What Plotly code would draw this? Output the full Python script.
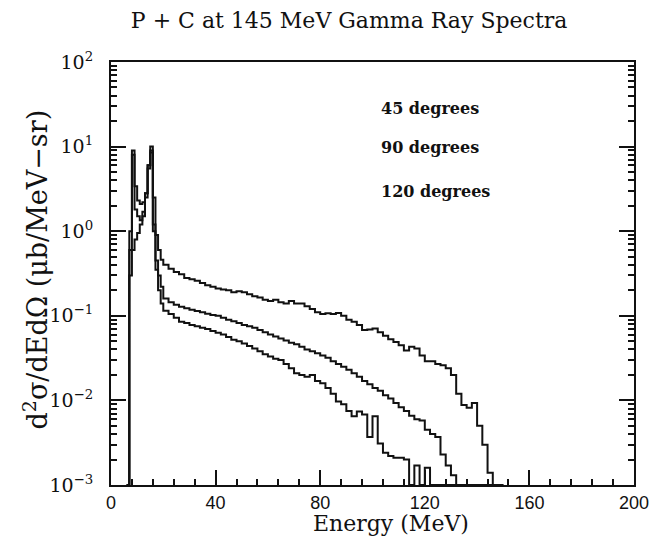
import plotly.graph_objects as go

# Bin left edges (MeV): 1 MeV bins through the peaks, 2 MeV bins in the continuum
e_lo = list(range(6, 20)) + list(range(20, 150, 2))
e_last = 150

labels = ["45 degrees", "90 degrees", "120 degrees"]

# d2sigma/dEdOmega (ub/MeV-sr)
y45 = [0.001, 1.0, 9.0, 3.4, 2.3, 2.1, 2.2, 2.8, 6.0, 10.0, 2.5, 0.9, 0.6, 0.46,
       0.40, 0.36, 0.33, 0.31, 0.28, 0.27, 0.26, 0.245, 0.23, 0.22,
       0.21, 0.205, 0.20, 0.19, 0.195, 0.19, 0.18, 0.17, 0.165, 0.155,
       0.15, 0.155, 0.145, 0.14, 0.15, 0.14, 0.14, 0.13, 0.12, 0.11,
       0.105, 0.107, 0.105, 0.108, 0.10, 0.09, 0.085, 0.078, 0.068, 0.069,
       0.071, 0.064, 0.058, 0.053, 0.049, 0.045, 0.039, 0.043, 0.041, 0.034,
       0.029, 0.029, 0.027, 0.026, 0.024, 0.020, 0.012, 0.0088, 0.0082, 0.0093,
       0.005, 0.003, 0.0014, 0.001, 0.001]

y90 = [0.001, 0.6, 8.0, 1.8, 1.5, 1.35, 1.5, 2.5, 6.0, 9.0, 1.2, 0.45, 0.3, 0.22,
       0.16, 0.145, 0.135, 0.128, 0.123, 0.118, 0.114, 0.11, 0.106, 0.102,
       0.10, 0.095, 0.09, 0.086, 0.082, 0.078, 0.075, 0.072, 0.068, 0.064,
       0.06, 0.057, 0.054, 0.051, 0.048, 0.046, 0.043, 0.040, 0.038, 0.036,
       0.034, 0.032, 0.029, 0.027, 0.025, 0.023, 0.021, 0.019, 0.017, 0.0155,
       0.014, 0.013, 0.0115, 0.0105, 0.0093, 0.0083, 0.0075, 0.0066, 0.006, 0.0058,
       0.0045, 0.004, 0.0037, 0.0023, 0.0017, 0.0013, 0.001, 0.001, 0.001, 0.001,
       0.001, 0.001, 0.001, 0.001, 0.001]

y120 = [0.001, 0.3, 0.6, 0.8, 0.95, 1.2, 1.7, 2.8, 5.5, 8.5, 1.0, 0.35, 0.2, 0.14,
        0.115, 0.105, 0.095, 0.085, 0.082, 0.078, 0.075, 0.072, 0.07, 0.066,
        0.063, 0.06, 0.056, 0.052, 0.05, 0.047, 0.044, 0.041, 0.038, 0.035,
        0.033, 0.031, 0.030, 0.027, 0.024, 0.021, 0.020, 0.019, 0.020, 0.017,
        0.016, 0.014, 0.012, 0.0097, 0.009, 0.0075, 0.0065, 0.0074, 0.0068, 0.0037,
        0.0065, 0.0031, 0.0024, 0.0022, 0.0021, 0.0021, 0.002, 0.001, 0.0017, 0.001,
        0.0016, 0.001, 0.001, 0.001, 0.001, 0.001, 0.001, 0.001, 0.001, 0.001,
        0.001, 0.001, 0.001, 0.001, 0.001]

x_ticks = [0, 40, 80, 120, 160, 200]
y_tickvals = [1e-3, 1e-2, 1e-1, 1, 10, 100]
y_ticktext = ["10<sup>−3</sup>", "10<sup>−2</sup>", "10<sup>−1</sup>",
              "10<sup>0</sup>", "10<sup>1</sup>", "10<sup>2</sup>"]

ink = "#111111"
serif = "DejaVu Serif"

fig = go.Figure()

for series in (y45, y90, y120):
    assert len(series) == len(e_lo)
    fig.add_trace(go.Scatter(
        x=e_lo + [e_last],
        y=series + [series[-1]],
        mode="lines",
        line=dict(color=ink, width=2, shape="hv"),
        showlegend=False,
    ))

# Angle labels in the upper right
label_y = [0.891, 0.797, 0.693]
for txt, yy in zip(labels, label_y):
    fig.add_annotation(
        x=0.512, y=yy, xref="paper", yref="paper",
        text=f"<b>{txt}</b>", showarrow=False, xanchor="left", yanchor="middle",
        font=dict(family=serif, size=16, color=ink),
    )

# axis titles placed by hand (the original sits a bit right of centre on x)
fig.add_annotation(
    x=-0.145, y=0.51, xref="paper", yref="paper", textangle=-90,
    text="d<sup>2</sup>σ/dEdΩ (μb/MeV−sr)", showarrow=False,
    xanchor="center", yanchor="middle",
    font=dict(family=serif, size=27, color=ink),
)
fig.add_annotation(
    x=0.535, y=-0.09, xref="paper", yref="paper",
    text="Energy (MeV)", showarrow=False,
    xanchor="center", yanchor="middle",
    font=dict(family=serif, size=22, color=ink),
)

# the page adds an 8 px body margin, so the figure is 8 px smaller than the window
fig.update_layout(
    width=651, height=534,
    margin=dict(l=103, r=25, t=54, b=57, autoexpand=False),
    paper_bgcolor="white", plot_bgcolor="white",
    title=dict(text="P + C at 145 MeV Gamma Ray Spectra", x=0.524, xanchor="center",
               y=0.977, yanchor="middle", yref="container",
               font=dict(family=serif, size=22, color=ink)),
    xaxis=dict(
        range=[0, 200], tickvals=x_ticks, ticks="inside", ticklen=15, tickwidth=1.5,
        tickcolor=ink, showline=True, linecolor=ink, linewidth=2, mirror=True,
        showgrid=False, zeroline=False, automargin=False,
        minor=dict(dtick=8, ticks="inside", ticklen=6, tickcolor=ink, showgrid=False),
        tickfont=dict(family="Liberation Sans", size=18, color=ink),
    ),
    yaxis=dict(
        type="log", range=[-3, 2], tickvals=y_tickvals, ticktext=y_ticktext,
        ticks="inside", ticklen=15, tickwidth=1.5, tickcolor=ink,
        showline=True, linecolor=ink, linewidth=2, mirror="ticks",
        showgrid=False, zeroline=False, automargin=False, ticklabelstandoff=12,
        minor=dict(dtick="D1", ticks="inside", ticklen=6, tickcolor=ink, showgrid=False),
        tickfont=dict(family=serif, size=19, color=ink),
    ),
)

fig.write_html("out.html")
